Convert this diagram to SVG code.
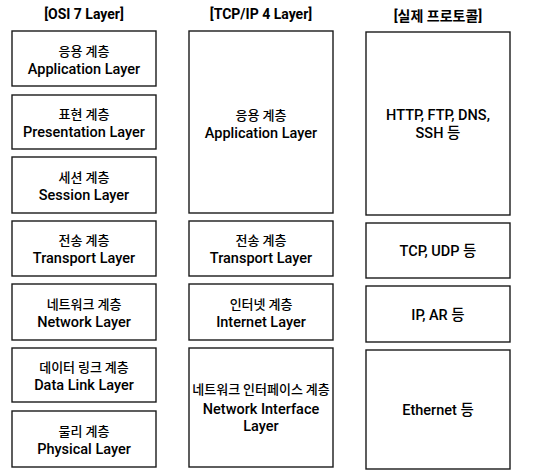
<svg xmlns="http://www.w3.org/2000/svg" width="548" height="471" viewBox="0 0 548 471">
<style>
.box{fill:#fff;stroke:#1a1a1a;stroke-width:1.4}
text{font-family:Roboto,"Noto Sans CJK KR",sans-serif;font-size:14.5px;fill:#000;text-anchor:middle;font-weight:500}
.ko{font-family:"Noto Sans CJK KR",sans-serif;font-size:13px;font-weight:500}
.hd{font-weight:bold;font-size:14px}
</style>
<rect width="548" height="471" fill="#fff"/>
<g id="headers">
<text class="hd" x="84" y="19">[OSI 7 Layer]</text>
<text class="hd" x="261" y="19">[TCP/IP 4 Layer]</text>
<text class="hd" x="438" y="21">[실제 프로토콜]</text>
</g>
<g id="osi-application"><rect class="box" x="12" y="31" width="144" height="55"/><text class="ko" x="84" y="56">응용 계층</text><text x="84" y="74">Application Layer</text></g>
<g id="osi-presentation"><rect class="box" x="12" y="95" width="144" height="54"/><text class="ko" x="84" y="119">표현 계층</text><text x="84" y="137">Presentation Layer</text></g>
<g id="osi-session"><rect class="box" x="12" y="157" width="144" height="56"/><text class="ko" x="84" y="182">세션 계층</text><text x="84" y="200">Session Layer</text></g>
<g id="osi-transport"><rect class="box" x="12" y="221" width="144" height="55"/><text class="ko" x="84" y="245">전송 계층</text><text x="84" y="263">Transport Layer</text></g>
<g id="osi-network"><rect class="box" x="12" y="284" width="144" height="56"/><text class="ko" x="84" y="309">네트워크 계층</text><text x="84" y="327">Network Layer</text></g>
<g id="osi-datalink"><rect class="box" x="12" y="348" width="144" height="54"/><text class="ko" x="84" y="372">데이터 링크 계층</text><text x="84" y="390">Data Link Layer</text></g>
<g id="osi-physical"><rect class="box" x="12" y="411" width="144" height="56"/><text class="ko" x="84" y="436">물리 계층</text><text x="84" y="454">Physical Layer</text></g>

<g id="tcp-application"><rect class="box" x="189" y="31" width="144" height="182"/><text class="ko" x="261" y="120">응용 계층</text><text x="261" y="138">Application Layer</text></g>
<g id="tcp-transport"><rect class="box" x="189" y="221" width="144" height="55"/><text class="ko" x="261" y="245">전송 계층</text><text x="261" y="263">Transport Layer</text></g>
<g id="tcp-internet"><rect class="box" x="189" y="284" width="144" height="56"/><text class="ko" x="261" y="309">인터넷 계층</text><text x="261" y="327">Internet Layer</text></g>
<g id="tcp-netif"><rect class="box" x="189" y="348" width="144" height="119"/><text class="ko" x="261" y="394">네트워크 인터페이스 계층</text><text x="261" y="414">Network Interface</text><text x="261" y="431">Layer</text></g>

<g id="proto-app"><rect class="box" x="366" y="32" width="144" height="183"/><text x="438" y="120">HTTP, FTP, DNS,</text><text x="438" y="138">SSH 등</text></g>
<g id="proto-transport"><rect class="box" x="366" y="223" width="144" height="55"/><text x="438" y="256">TCP, UDP 등</text></g>
<g id="proto-internet"><rect class="box" x="366" y="286" width="144" height="56"/><text x="438" y="320">IP, AR 등</text></g>
<g id="proto-link"><rect class="box" x="366" y="350" width="144" height="119"/><text x="438" y="415">Ethernet 등</text></g>
<g id="connectors"/>
</svg>
